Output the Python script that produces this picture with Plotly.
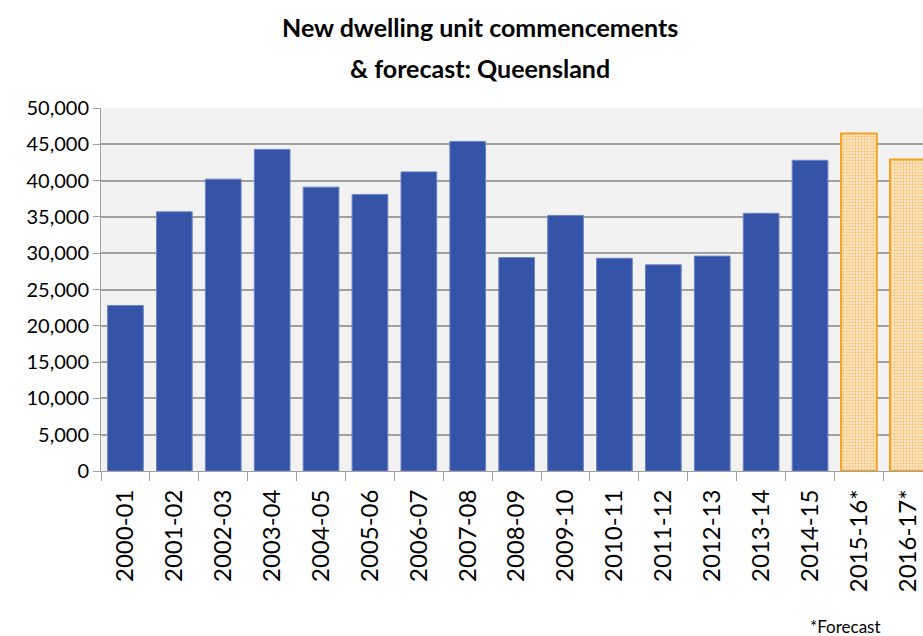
import plotly.graph_objects as go

categories = ["2000-01", "2001-02", "2002-03", "2003-04", "2004-05", "2005-06",
              "2006-07", "2007-08", "2008-09", "2009-10", "2010-11", "2011-12",
              "2012-13", "2013-14", "2014-15", "2015-16*", "2016-17*"]
actual = [22800, 35700, 40200, 44300, 39100, 38100, 41200, 45400, 29400,
          35200, 29300, 28400, 29600, 35500, 42800, None, None]
forecast = [None] * 15 + [46500, 42900]
y_ticks = [0, 5000, 10000, 15000, 20000, 25000, 30000, 35000, 40000, 45000, 50000]
y_tick_labels = ["0", "5,000", "10,000", "15,000", "20,000", "25,000", "30,000",
                 "35,000", "40,000", "45,000", "50,000"]

FONT = "Lato, Calibri, 'Open Sans', sans-serif"

fig = go.Figure()
fig.add_trace(go.Bar(
    x=categories, y=actual, name="Actual",
    marker=dict(color="#3654A7", line=dict(color="#6C83C7", width=1)),
))
fig.add_trace(go.Bar(
    x=categories, y=forecast, name="Forecast",
    marker=dict(color="#FCD9A6", line=dict(color="#F5A122", width=2),
                pattern=dict(shape="+", fgcolor="#F8B14A", bgcolor="#FDE6C4",
                             size=3, solidity=0.5)),
))

fig.update_layout(
    width=923, height=636,
    margin=dict(l=101, r=0, t=108, b=165),
    paper_bgcolor="white",
    plot_bgcolor="#F2F2F2",
    barmode="overlay",
    bargap=0.27,
    showlegend=False,
    font=dict(family=FONT, color="black"),
    xaxis=dict(
        type="category",
        range=[-0.5, 16.31],
        tickangle=-90,
        tickfont=dict(size=24, family=FONT),
        ticks="outside", tickson="boundaries", ticklen=9, tickcolor="#A0A0A0",
        ticklabelstandoff=8,
        showline=True, linecolor="#A0A0A0", linewidth=1,
        showgrid=False,
    ),
    yaxis=dict(
        range=[0, 50000],
        tickvals=y_ticks, ticktext=y_tick_labels,
        tickfont=dict(size=20, family=FONT),
        ticks="outside", ticklen=7, tickcolor="#A0A0A0",
        showline=True, linecolor="#A0A0A0", linewidth=1,
        showgrid=True, gridcolor="#A0A0A0", gridwidth=1.5,
        zeroline=False,
    ),
    annotations=[
        dict(text="<b>New dwelling unit commencements</b>", xref="paper", yref="paper",
             x=0.5, y=1 + (108 - 27) / 363, xanchor="center", yanchor="middle",
             showarrow=False, font=dict(size=25, family=FONT, color="black"),
             xshift=480 - (101 + 822 / 2)),
        dict(text="<b>&amp; forecast: Queensland</b>", xref="paper", yref="paper",
             x=0.5, y=1 + (108 - 68) / 363, xanchor="center", yanchor="middle",
             showarrow=False, font=dict(size=25, family=FONT, color="black"),
             xshift=480 - (101 + 822 / 2)),
        dict(text="*Forecast", xref="paper", yref="paper",
             x=1, y=-(626 - 471) / 363, xanchor="right", yanchor="middle",
             xshift=-40, showarrow=False,
             font=dict(size=17, family=FONT, color="black")),
    ],
)

fig.write_html("out.html", config={"displayModeBar": False},
               post_script="document.body.style.margin='0';document.body.style.overflow='hidden';")
